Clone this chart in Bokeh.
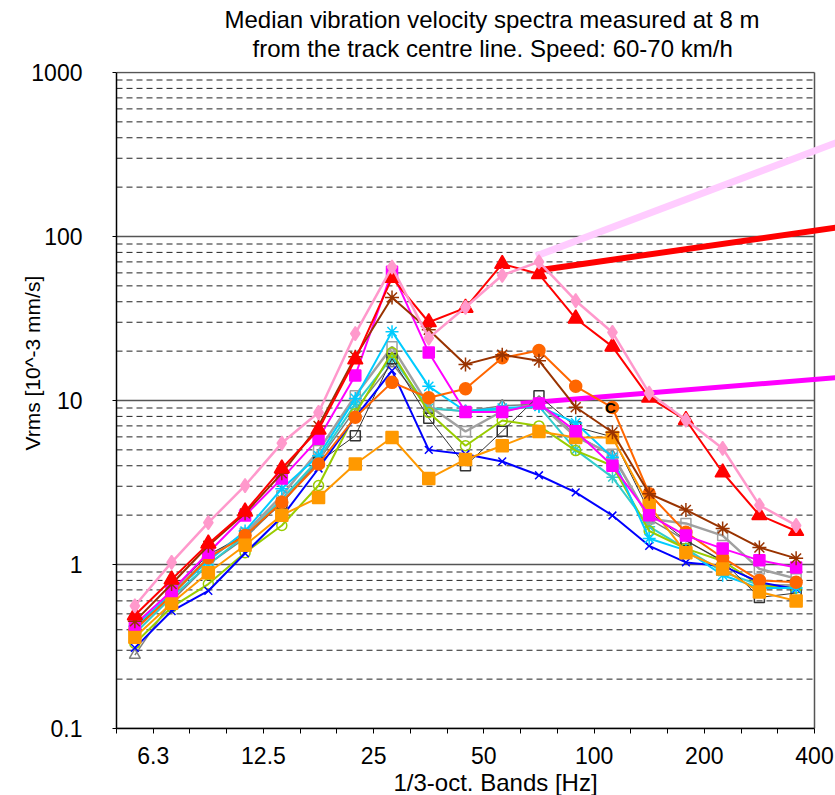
import math
from bokeh.plotting import figure
from bokeh.models import Range1d, FixedTicker, Label, BasicTickFormatter, Title
from bokeh.embed import file_html
from bokeh.resources import INLINE

# ---------------- data ----------------
bands = ["6.3", "8", "10", "12.5", "16", "20", "25", "31.5", "40", "50",
         "63", "80", "100", "125", "160", "200", "250", "315", "400"]
tick_labels = ["6.3", "12.5", "25", "50", "100", "200", "400"]
y_ticks = [0.1, 1, 10, 100, 1000]
y_tick_labels = ["0.1", "1", "10", "100", "1000"]

pink_diamond = [0.56, 1.03, 1.8, 3.03, 5.5, 8.45, 25.6, 65, 24, 37, 58, 70, 40.6, 26, 11.1, 7.6, 5.1, 2.3, 1.73]
red_triangle = [0.49, 0.81, 1.34, 2.1, 3.85, 6.65, 17.8, 56, 30, 36.7, 68, 59, 31.6, 21.3, 10.4, 7.6, 3.64, 2.0, 1.6]
brown_star = [0.45, 0.76, 1.3, 2.05, 3.6, 7.0, 18.5, 42.5, 27, 16.6, 19.0, 17.5, 9.1, 6.4, 2.7, 2.15, 1.66, 1.27, 1.09]
orange_circle = [0.40, 0.65, 1.1, 1.5, 2.4, 4.1, 7.9, 12.9, 10.4, 11.8, 18.2, 20.2, 12.2, 9.06, 2.7, 1.57, 1.1, 0.8, 0.78]
magenta_square = [0.43, 0.69, 1.18, 1.99, 3.34, 5.85, 14.2, 61, 19.6, 8.5, 8.5, 9.6, 6.5, 4.0, 2.0, 1.5, 1.25, 1.06, 0.96]
cyan_star = [0.42, 0.66, 1.05, 1.6, 2.9, 4.6, 10.3, 26.3, 12.2, 8.6, 9.0, 9.2, 7.3, 4.5, 1.44, 1.22, 0.86, 0.72, 0.72]
blue_x = [0.31, 0.52, 0.69, 1.17, 1.95, 3.85, 7.9, 15.2, 5.0, 4.7, 4.25, 3.5, 2.75, 1.99, 1.3, 1.03, 0.98, 0.78, 0.71]
orange_square = [0.36, 0.58, 0.89, 1.31, 2.0, 2.56, 4.1, 5.95, 3.34, 4.37, 5.3, 6.47, 5.95, 5.95, 2.29, 1.18, 0.94, 0.68, 0.6]
green_circle = [0.33, 0.55, 0.76, 1.18, 1.73, 3.03, 8.3, 19.6, 8.45, 5.3, 7.55, 7.0, 4.95, 4.0, 1.6, 1.25, 1.05, 0.75, 0.72]
gray_square = [0.40, 0.66, 1.1, 1.55, 2.63, 4.95, 10.7, 21.3, 9.3, 6.47, 8.6, 9.6, 6.0, 4.7, 1.9, 1.78, 1.5, 0.94, 0.82]
dark_square = [0.40, 0.68, 1.15, 1.5, 2.35, 4.2, 6.1, 18.0, 7.8, 4.0, 6.5, 10.7, 6.9, 6.0, 2.1, 1.4, 1.05, 0.63, 0.67]
gray_triangle = [0.28, 0.6, 1.0, 1.45, 2.4, 4.3, 8.8, 16.8, 8.9, 8.6, 9.3, 9.5, 6.2, 4.6, 1.9, 1.4, 1.05, 0.75, 0.75]
teal_star = [0.38, 0.63, 1.0, 1.5, 2.5, 4.4, 9.5, 18.3, 9.0, 8.6, 8.8, 9.2, 5.0, 3.4, 1.7, 1.25, 0.9, 0.75, 0.72]

# leader lines running off the chart (band position, value)
leader_pink_x = [11.42, 19.6]
leader_pink_y = [76, 374]
leader_red_x = [11.45, 19.6]
leader_red_y = [62, 113.5]
leader_mag_x = [11.0, 19.6]
leader_mag_y = [9.6, 13.8]

label_c_band = "125"
label_c_value = 9.06

# ---------------- figure ----------------
W, H = 835, 795
BL, BR, BT, BB = 116, 0, 71, 67
n = len(bands)
plot_w = 698.0           # width of the drawn box in px
frame_w = W - BL - BR
x_end = n * frame_w / plot_w
y_end = 1000 * 10 ** (1 / 164)

p = figure(width=W, height=H, x_range=Range1d(0, x_end), y_range=Range1d(0.1, y_end),
           y_axis_type="log", output_backend="svg", toolbar_location=None,
           min_border_left=BL, min_border_right=BR, min_border_top=BT, min_border_bottom=BB)
p.xgrid.visible = False
p.ygrid.visible = False
p.outline_line_color = None
p.background_fill_color = "white"

FONT = "Liberation Sans"

# grid lines
minor_vals = [m * 10 ** d for d in range(-1, 3) for m in range(2, 10)]
p.segment(x0=[0] * len(minor_vals), x1=[n] * len(minor_vals), y0=minor_vals, y1=minor_vals,
          line_color="#222222", line_width=1, line_dash="6 4")
p.segment(x0=[0] * len(y_ticks), x1=[n] * len(y_ticks), y0=y_ticks, y1=y_ticks,
          line_color="#555555", line_width=1.5)
# right border
p.segment(x0=[n], x1=[n], y0=[y_ticks[0]], y1=[y_ticks[-1]], line_color="#555555", line_width=1.5)

# leader lines
p.line(leader_pink_x, leader_pink_y, line_color="#FFCCFF", line_width=7)
p.line(leader_red_x, leader_red_y, line_color="#FF0000", line_width=6)
p.line(leader_mag_x, leader_mag_y, line_color="#FF00FF", line_width=5)

xs = [i + 0.5 for i in range(n)]

styles = [
    (gray_triangle, "#808080", "triangle", 11, False, 1.5),
    (teal_star, "#33CCCC", "asterisk", 12, False, 2),
    (gray_square, "#A0A0A0", "square", 10, False, 2.5),
    (dark_square, "#333333", "square", 10, False, 1),
    (green_circle, "#99CC00", "circle", 10, False, 2),
    (blue_x, "#0000FF", "x", 11, False, 2),
    (cyan_star, "#00CCFF", "asterisk", 13, False, 2),
    (orange_circle, "#FF6600", "circle", 12, True, 2),
    (orange_square, "#FF9900", "square", 12, True, 2),
    (magenta_square, "#FF00FF", "square", 11, True, 2),
    (brown_star, "#993300", "asterisk", 14, False, 2),
    (red_triangle, "#FF0000", "triangle", 15, True, 2),
    (pink_diamond, "#FF99CC", "diamond", 14, True, 2.5),
]
for vals, col, mk, sz, filled, lw in styles:
    p.line(xs, vals, line_color=col, line_width=lw)
    p.scatter(xs, vals, marker=mk, size=sz, line_color=col, line_width=1.5,
              fill_color=col if filled else None)

idx_c = bands.index(label_c_band)
p.add_layout(Label(x=idx_c + 0.5, y=label_c_value, text="C", text_font=FONT,
                   text_font_size="15px", text_font_style="bold", text_color="black",
                   text_align="center", text_baseline="middle", x_offset=-2))

# axes
xa = p.xaxis[0]
xa.ticker = FixedTicker(ticks=list(range(n + 1)))
over = {i: "" for i in range(n + 1)}
for t in tick_labels:
    over[bands.index(t) + 1] = t
xa.major_label_overrides = over
xa.bounds = (0, n)
xa.axis_line_color = "black"
xa.axis_line_width = 1.5
xa.major_tick_out = 5
xa.major_tick_in = 0
xa.major_tick_line_color = "black"
xa.minor_tick_line_color = None
xa.major_label_standoff = 13
xa.major_label_text_font = FONT
xa.major_label_text_font_size = "23px"
xa.major_label_text_color = "black"

ya = p.yaxis[0]
ya.ticker = FixedTicker(ticks=y_ticks)
ya.formatter = BasicTickFormatter()
ya.major_label_overrides = dict(zip(y_ticks, y_tick_labels))
ya.bounds = (y_ticks[0], y_ticks[-1])
ya.axis_line_color = "black"
ya.axis_line_width = 1.5
ya.major_tick_out = 4
ya.major_tick_in = 0
ya.minor_tick_line_color = None
ya.major_label_standoff = 30
ya.major_label_text_font = FONT
ya.major_label_text_font_size = "23px"
ya.major_label_text_color = "black"

# titles (later-added "above" titles sit further out)
line1 = "Median vibration velocity spectra measured at 8 m"
line2 = "from the track centre line. Speed: 60-70 km/h"
xlabel = "1/3-oct. Bands [Hz]"
ylabel = "Vrms [10^-3 mm/s]"

p.add_layout(Title(text=line2, align="left", offset=136, text_font=FONT, text_font_size="24px",
                   text_font_style="normal", text_color="black", standoff=20), "above")
p.add_layout(Title(text=line1, align="left", offset=108, text_font=FONT, text_font_size="24px",
                   text_font_style="normal", text_color="black", standoff=-20), "above")
p.add_layout(Title(text=xlabel, align="left", offset=277, text_font=FONT, text_font_size="24px",
                   text_font_style="normal", text_color="black", standoff=0), "below")
p.add_layout(Title(text=ylabel, align="left", offset=278, text_font=FONT, text_font_size="21px",
                   text_font_style="normal", text_color="black", standoff=-30), "left")

open("out.html", "w").write(file_html(p, INLINE))
